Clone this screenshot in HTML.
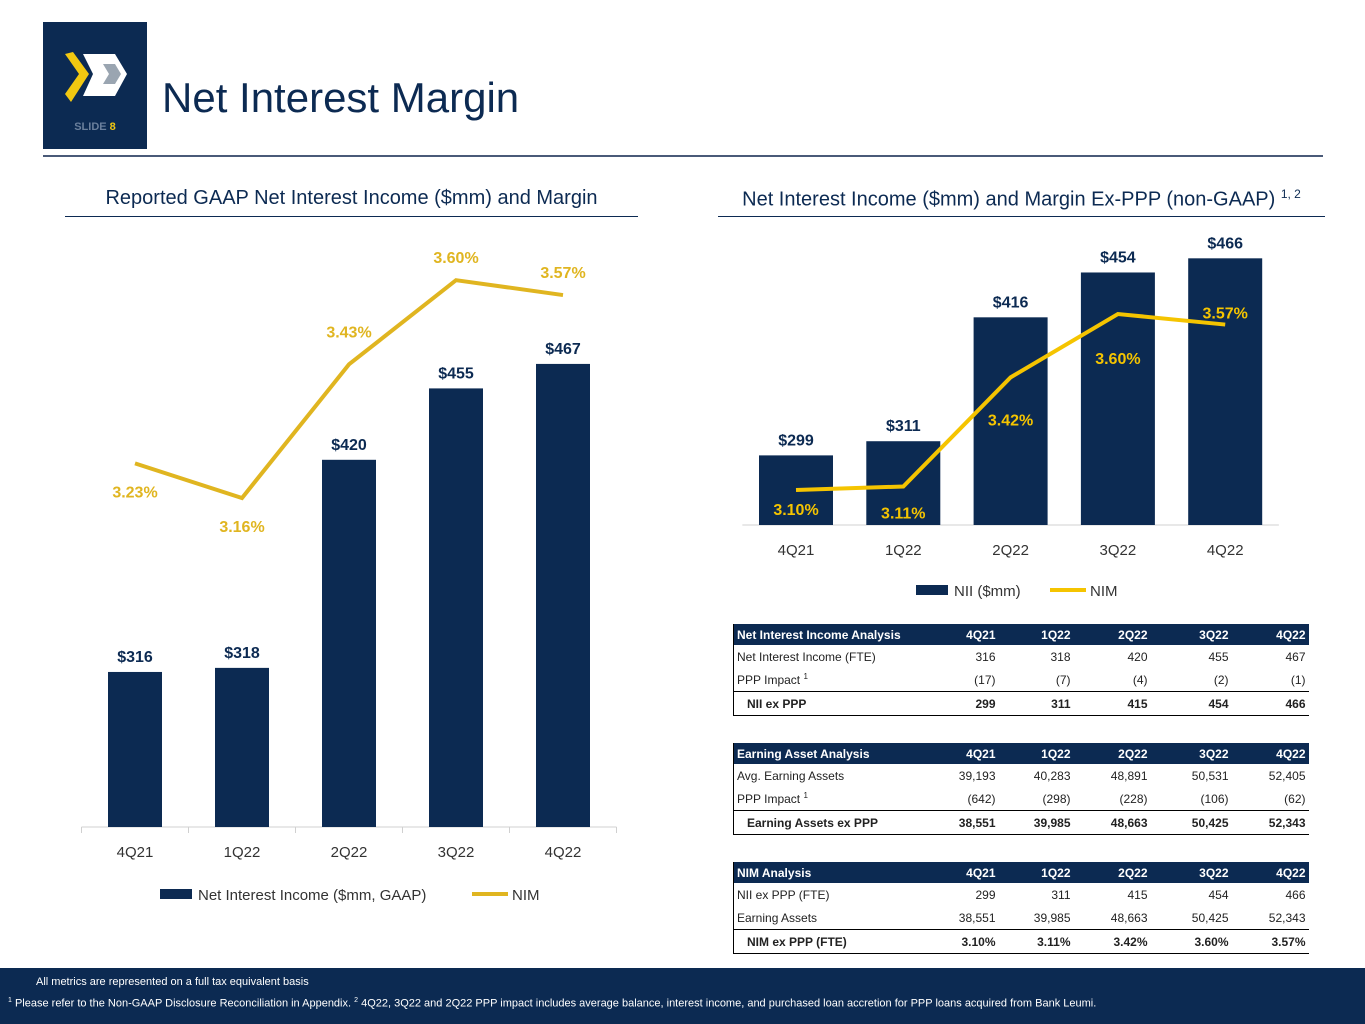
<!DOCTYPE html>
<html><head><meta charset="utf-8"><style>
body{margin:0;width:1365px;height:1024px;position:relative;background:#fff;font-family:"Liberation Sans",Calibri,sans-serif;overflow:hidden;color:#222}
.abs{position:absolute}
table{border-collapse:collapse;font-size:12px;position:absolute;left:733px;width:575px;table-layout:fixed}
td{padding:0 3px;height:23px;text-align:right;white-space:nowrap}
td:first-child{text-align:left}
tr.h td{background:#0c2a52;color:#fff;font-weight:bold;height:21px}
tr.t td{font-weight:bold;border-top:1px solid #000;border-bottom:1px solid #000}
table{border-left:1px solid #000}
</style></head><body>
<div class="abs" style="left:43px;top:22px;width:104px;height:127px;background:#0c2a52">
<svg width="104" height="127"><polygon points="22,32 36,52 22,72 28,80 46,52 30,30" fill="#f2c811"/><polygon points="40,32 72,32 84,52 72,74 40,74 50,52" fill="#fff"/><polygon points="60,42 72,42 78,52 72,62 60,62 66,52" fill="#9aa5b1"/><text x="52" y="108" text-anchor="middle" font-size="11" font-weight="bold" fill="#6a7f9c" font-family="Liberation Sans">SLIDE <tspan fill="#f2c811">8</tspan></text></svg></div>
<div class="abs" style="left:162px;top:74px;font-size:42px;color:#0c2a52">Net Interest Margin</div>
<div class="abs" style="left:43px;top:155px;width:1280px;height:2px;background:#4a5a78"></div>
<div class="abs" style="left:65px;top:187px;width:573px;text-align:center;font-size:20px;color:#0c2a52">Reported GAAP Net Interest Income ($mm) and Margin</div>
<div class="abs" style="left:65px;top:216px;width:573px;height:1px;background:#0c2a52"></div>
<div class="abs" style="left:718px;top:187px;width:607px;text-align:center;font-size:20px;color:#0c2a52">Net Interest Income ($mm) and Margin Ex-PPP (non-GAAP) <sup style="font-size:12px">1, 2</sup></div>
<div class="abs" style="left:718px;top:216px;width:607px;height:1px;background:#0c2a52"></div>
<svg class="abs" id="charts" style="left:0;top:0" width="1365" height="1024" font-family="Liberation Sans"></svg>

<table style="top:624px">
<colgroup><col style="width:190px"><col style="width:75px"><col style="width:75px"><col style="width:77px"><col style="width:81px"><col style="width:77px"></colgroup>
<tr class="h"><td>Net Interest Income Analysis</td><td>4Q21</td><td>1Q22</td><td>2Q22</td><td>3Q22</td><td>4Q22</td></tr>
<tr><td>Net Interest Income (FTE)</td><td>316</td><td>318</td><td>420</td><td>455</td><td>467</td></tr>
<tr><td>PPP Impact <sup style="font-size:8px">1</sup></td><td>(17)</td><td>(7)</td><td>(4)</td><td>(2)</td><td>(1)</td></tr>
<tr class="t"><td>&nbsp;&nbsp;&nbsp;NII ex PPP</td><td>299</td><td>311</td><td>415</td><td>454</td><td>466</td></tr></table>
<table style="top:743px">
<colgroup><col style="width:190px"><col style="width:75px"><col style="width:75px"><col style="width:77px"><col style="width:81px"><col style="width:77px"></colgroup>
<tr class="h"><td>Earning Asset Analysis</td><td>4Q21</td><td>1Q22</td><td>2Q22</td><td>3Q22</td><td>4Q22</td></tr>
<tr><td>Avg. Earning Assets</td><td>39,193</td><td>40,283</td><td>48,891</td><td>50,531</td><td>52,405</td></tr>
<tr><td>PPP Impact <sup style="font-size:8px">1</sup></td><td>(642)</td><td>(298)</td><td>(228)</td><td>(106)</td><td>(62)</td></tr>
<tr class="t"><td>&nbsp;&nbsp;&nbsp;Earning Assets ex PPP</td><td>38,551</td><td>39,985</td><td>48,663</td><td>50,425</td><td>52,343</td></tr></table>
<table style="top:862px">
<colgroup><col style="width:190px"><col style="width:75px"><col style="width:75px"><col style="width:77px"><col style="width:81px"><col style="width:77px"></colgroup>
<tr class="h"><td>NIM Analysis</td><td>4Q21</td><td>1Q22</td><td>2Q22</td><td>3Q22</td><td>4Q22</td></tr>
<tr><td>NII ex PPP (FTE)</td><td>299</td><td>311</td><td>415</td><td>454</td><td>466</td></tr>
<tr><td>Earning Assets</td><td>38,551</td><td>39,985</td><td>48,663</td><td>50,425</td><td>52,343</td></tr>
<tr class="t"><td>&nbsp;&nbsp;&nbsp;NIM ex PPP (FTE)</td><td>3.10%</td><td>3.11%</td><td>3.42%</td><td>3.60%</td><td>3.57%</td></tr></table>

<div class="abs" style="left:0;top:968px;width:1365px;height:56px;background:#0c2a52;color:#fff;font-size:11px">
<div style="position:absolute;left:36px;top:8px">All metrics are represented on a full tax equivalent basis</div>
<div style="position:absolute;left:8px;top:29px"><sup style="font-size:7px">1</sup> Please refer to the Non-GAAP Disclosure Reconciliation in Appendix. <sup style="font-size:7px">2</sup> 4Q22, 3Q22 and 2Q22 PPP impact includes average balance, interest income, and purchased loan accretion for PPP loans acquired from Bank Leumi.</div></div>
<script>
const categories=["4Q21","1Q22","2Q22","3Q22","4Q22"];
const gaapNII=[316,318,420,455,467];
const gaapNIM=[3.23,3.16,3.43,3.60,3.57];
const exNII=[299,311,416,454,466];
const exNIM=[3.10,3.11,3.42,3.60,3.57];
const svg=document.getElementById('charts');
const NS='http://www.w3.org/2000/svg';
function mk(t,a,txt){const e=document.createElementNS(NS,t);for(const k in a)e.setAttribute(k,a[k]);if(txt!==undefined)e.textContent=txt;svg.appendChild(e);return e;}
function chart(o){
 const xs=i=>o.x0+i*o.step;
 const yb=v=>o.base-(v-240)*o.k;
 const yl=v=>o.lb-(v-o.lmin)*o.lk;
 let ax=mk('line',{x1:o.x0-o.step/2,x2:o.x0+4.5*o.step,y1:o.base,y2:o.base,stroke:'#d0d0d0'});
 
 for(let i=0;i<=5;i++){if(o.ticks){let t=mk('line',{x1:o.x0-o.step/2+i*o.step,x2:o.x0-o.step/2+i*o.step,y1:o.base,y2:o.base+6,stroke:'#d0d0d0'});}}
 o.nii.forEach((v,i)=>{
  let r=mk('rect',{x:xs(i)-o.bw/2,y:yb(v),width:o.bw,height:o.base-yb(v),fill:'#0c2a52'});
  
  let t=mk('text',{x:xs(i),y:yb(v)-10,'text-anchor':'middle','font-size':16,'font-weight':'bold',fill:'#0c2a52'},'$'+v);
  
  let c=mk('text',{x:xs(i),y:o.base+30,'text-anchor':'middle','font-size':15,fill:'#333'},categories[i]);
  
 });
 let pl=mk('polyline',{points:o.nim.map((v,i)=>xs(i)+','+yl(v)).join(' '),fill:'none',stroke:o.lc,'stroke-width':4});
 
 o.nim.forEach((v,i)=>{
  let t=mk('text',{x:xs(i),y:yl(v)+o.ldy[i],'text-anchor':'middle','font-size':16,'font-weight':'bold',fill:o.lc},v.toFixed(2)+'%');
  
 });
 let lg=o.legend;
 let r=mk('rect',{x:lg.x,y:lg.y-6,width:32,height:10,fill:'#0c2a52'});
 mk('text',{x:lg.x+38,y:lg.y+5,'font-size':15,fill:'#333'},lg.t1);
 let l=mk('line',{x1:lg.x2,x2:lg.x2+36,y1:lg.y-1,y2:lg.y-1,stroke:o.lc,'stroke-width':4});
 mk('text',{x:lg.x2+40,y:lg.y+5,'font-size':15,fill:'#333'},'NIM');
}
chart({p:'left-',x0:135,step:107,bw:54,base:827,k:2.04,nii:gaapNII,nim:gaapNIM,lb:498,lmin:3.16,lk:495,lc:'#e0b520',ldy:[34,34,-27,-17,-17],ticks:true,legend:{x:160,y:895,t1:'Net Interest Income ($mm, GAAP)',x2:472}});
chart({p:'right-',x0:796,step:107.3,bw:74,base:525,k:1.18,nii:exNII,nim:exNIM,lb:490,lmin:3.10,lk:352,lc:'#f5c400',ldy:[25,32,48,50,-6],ticks:false,legend:{x:916,y:591,t1:'NII ($mm)',x2:1050}});
</script>
</body></html>
